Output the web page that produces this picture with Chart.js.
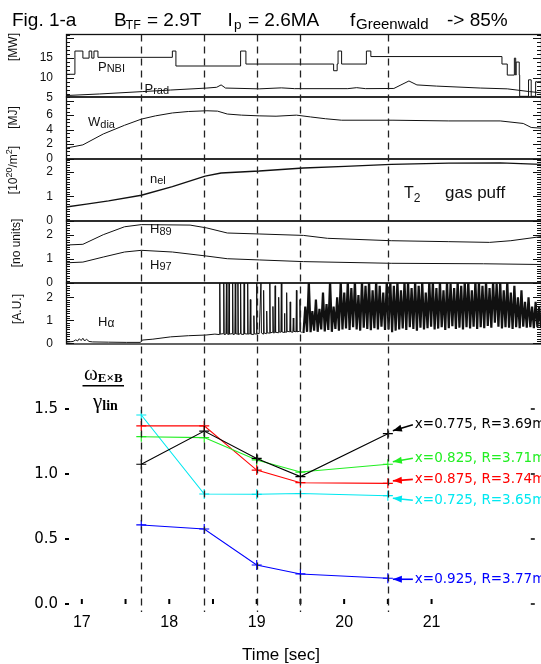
<!DOCTYPE html>
<html>
<head>
<meta charset="utf-8">
<title>Fig. 1-a</title>
<script src="https://cdn.jsdelivr.net/npm/chart.js@4.4.1/dist/chart.umd.min.js"></script>
<style>
  html, body { margin: 0; padding: 0; background: #fff; }
  #fig { position: relative; width: 541px; height: 664px; overflow: hidden; background: #fff; }
  #fig canvas { position: absolute; left: 0; top: 0; }
</style>
</head>
<body>
<div id="fig"></div>
<script>
// ---- time traces, [time (s), value] ----
const PNBI = [[16.82, 8.2], [16.92, 10.9], [17.01, 16.8], [17.08, 15.0], [17.11, 16.8], [17.135, 15.0],
  [17.18, 16.8], [18.02, 15.2], [18.06, 16.8], [18.79, 13.0], [18.85, 16.8], [19.84, 13.5], [19.88, 11.8],
  [19.89, 13.5], [19.93, 16.8], [20.21, 13.5], [20.26, 16.8], [21.74, 15.4], [21.80, 13.5], [21.88, 10.7],
  [21.895, 15.0], [21.90, 10.7], [21.935, 14.0], [21.94, 10.7], [22.04, 5.3], [22.07, 9.5], [22.12, 5.3],
  [22.14, 9.0], [22.18, 9.0]];
const PRAD = [[16.82, 5.5], [17.2, 5.9], [17.68, 6.5], [18.0, 6.9], [18.41, 7.4], [18.52, 7.6], [18.57, 8.2],
  [18.62, 7.4], [19.0, 7.2], [19.25, 7.45], [19.4, 7.25], [20.0, 7.25], [20.1, 7.5], [20.2, 7.25], [20.52, 7.3],
  [20.6, 8.2], [20.69, 9.2], [20.78, 8.2], [21.0, 7.9], [21.5, 7.4], [21.8, 7.2], [22.05, 6.5], [22.18, 6.2]];
const WDIA = [[16.82, 1.45], [17.01, 1.9], [17.24, 3.4], [17.48, 4.6], [17.67, 5.45], [17.83, 5.9], [18.02, 6.3],
  [18.2, 6.5], [18.41, 6.6], [18.53, 6.55], [18.64, 6.15], [18.8, 6.0], [19.0, 5.9], [19.19, 5.85], [19.42, 6.0],
  [19.58, 5.75], [19.75, 5.5], [19.93, 5.3], [20.51, 5.3], [21.14, 5.2], [21.72, 5.2], [21.98, 4.85],
  [22.07, 4.3], [22.18, 4.2]];
const NEL = [[16.82, 0.57], [17.05, 0.69], [17.3, 0.82], [17.67, 1.05], [18.02, 1.4], [18.39, 1.83], [18.57, 1.96],
  [19.0, 2.04], [19.5, 2.16], [19.97, 2.23], [20.49, 2.31], [21.14, 2.36], [21.72, 2.37], [22.18, 2.31]];
const H89 = [[16.82, 1.58], [17.01, 1.61], [17.24, 2.01], [17.48, 2.34], [17.67, 2.43], [18.22, 2.41], [18.41, 2.29],
  [18.64, 2.08], [19.0, 2.04], [19.5, 1.98], [19.77, 1.86], [20.49, 1.76], [21.14, 1.72], [21.6, 1.69],
  [21.84, 1.76], [22.18, 1.93]];
const H97 = [[16.82, 0.84], [17.01, 0.87], [17.24, 1.08], [17.48, 1.29], [17.67, 1.36], [18.02, 1.29], [18.41, 1.12],
  [18.64, 1.01], [19.0, 0.96], [19.5, 0.89], [20.49, 0.82], [21.53, 0.8], [22.18, 0.77]];
// H-alpha before the ELMs
const HA_PRE = [[16.82, 0.05], [16.9, 0.08], [16.93, 0.15], [16.95, 0.1], [16.97, 0.2], [16.99, 0.12], [17.01, 0.22],
  [17.03, 0.1], [17.05, 0.18], [17.08, 0.08], [17.12, 0.06], [17.3, 0.05], [17.5, 0.04], [17.66, 0.04],
  [17.68, 0.14], [17.8, 0.18], [18.0, 0.28], [18.2, 0.33], [18.4, 0.36], [18.5, 0.40]];
// H-alpha, isolated ELMs
const HA_ELM = [[18.55, 0.38], [18.555, 2.7], [18.56, 0.4], [18.595, 0.42], [18.6, 2.7], [18.605, 0.38],
  [18.625, 0.4], [18.63, 2.7], [18.635, 0.42], [18.655, 0.38], [18.66, 2.7], [18.665, 0.4], [18.695, 0.42],
  [18.7, 2.7], [18.705, 0.38], [18.725, 0.4], [18.73, 2.7], [18.735, 0.42], [18.755, 0.4], [18.76, 2.7],
  [18.765, 0.38], [18.785, 0.42], [18.79, 2.7], [18.795, 0.4], [18.825, 0.38], [18.83, 2.7], [18.835, 0.42],
  [18.865, 0.4], [18.87, 2.7], [18.875, 0.4], [18.895, 0.42], [18.9, 1.9], [18.905, 0.4], [18.935, 0.38],
  [18.94, 1.2], [18.945, 0.42], [18.965, 0.4], [18.97, 2.7], [18.975, 0.44], [19.0, 0.42], [19.02, 2.7],
  [19.025, 0.45], [19.045, 0.4], [19.05, 2.3], [19.055, 0.45], [19.08, 0.42], [19.085, 1.4], [19.09, 0.46],
  [19.115, 0.44], [19.12, 2.7], [19.125, 0.45], [19.15, 0.48], [19.155, 1.6], [19.16, 0.45], [19.175, 0.46],
  [19.18, 2.5], [19.185, 0.48], [19.215, 0.46], [19.22, 2.0], [19.225, 0.5], [19.245, 0.48], [19.25, 2.7],
  [19.255, 0.5], [19.28, 0.47], [19.285, 1.3], [19.29, 0.5], [19.305, 0.48], [19.31, 2.2], [19.315, 0.52],
  [19.345, 0.5], [19.35, 1.8], [19.355, 0.5], [19.38, 0.48], [19.385, 1.1], [19.39, 0.52], [19.415, 0.5],
  [19.42, 2.3], [19.425, 0.5], [19.455, 0.52], [19.46, 1.9], [19.465, 0.5], [19.48, 0.48]];
// H-alpha, dense ELM phase, one sample every HA_DT seconds from HA_T0
const HA_T0 = 19.5, HA_DT = 0.02;
const HA_DENSE = [
  0.45, 1.6, 0.5, 2.7, 0.48, 1.4, 0.55, 1.9, 0.5, 1.5, 0.6, 2.2, 0.52, 1.7, 0.58, 2.7, 0.5, 1.6, 0.62, 2.0,
  0.55, 2.7, 0.6, 2.2, 0.65, 2.7, 0.58, 2.4, 0.7, 2.7, 0.6, 2.1, 0.55, 2.7, 0.68, 2.5, 0.62, 2.7, 0.57, 2.3,
  0.66, 2.7, 0.6, 2.5, 0.72, 2.2, 0.58, 2.7, 0.6, 2.7,
  0.48, 2.5, 0.55, 2.7, 0.6, 2.3, 0.65, 2.7, 0.58, 2.7, 0.7, 2.4, 0.62, 2.7, 0.55, 2.5, 0.68, 2.7, 0.6, 2.2,
  0.66, 2.7, 0.72, 2.7, 0.6, 2.4, 0.64, 2.7, 0.7, 2.3, 0.58, 2.7, 0.66, 2.6, 0.74, 2.4, 0.62, 2.7, 0.68, 2.5,
  0.6, 2.7, 0.7, 2.7, 0.65, 2.3, 0.72, 2.7, 0.62, 2.7,
  0.7, 2.5, 0.66, 2.7, 0.75, 2.4, 0.68, 2.7, 0.9, 2.6, 0.72, 2.7, 0.65, 2.3, 0.7, 2.7, 0.68, 2.2, 0.62, 2.5,
  0.7, 2.0, 0.66, 2.3, 0.72, 1.8, 0.68, 2.0, 0.7, 1.6, 0.66, 1.8, 0.7, 1.6, 0.68];

// ---- omega_ExB / gamma_lin at the analysed times ----
const SCAN_TIMES = [17.68, 18.40, 19.00, 19.50, 20.50];
const RATIO_X0775 = [1.075, 1.33, 1.12, 0.98, 1.31];
const RATIO_X0825 = [1.287, 1.28, 1.108, 1.015, 1.075];
const RATIO_X0875 = [1.37, 1.37, 1.03, 0.933, 0.928];
const RATIO_X0725 = [1.454, 0.846, 0.844, 0.85, 0.833];
const RATIO_X0925 = [0.608, 0.577, 0.30, 0.231, 0.198];
const SERIES_NAMES = ['x=0.775, R=3.69m', 'x=0.825, R=3.71m', 'x=0.875, R=3.74m', 'x=0.725, R=3.65m', 'x=0.925, R=3.77m'];
const BOTTOM_Y_TICKS = [0, 0.5, 1.0, 1.5];
const BOTTOM_X_TICKS = [17, 17.5, 18, 18.5, 19, 19.5, 20, 20.5, 21];

// ---- styles / layout ----
const SANS = '"Liberation Sans", Arial, Helvetica, sans-serif';
const SERIF = '"Liberation Serif", "Times New Roman", serif';
const DEJA = '"DejaVu Sans", sans-serif';
const INK = '#111';
const SERIES_COLORS = ['#000000', '#22ee22', '#ff0000', '#00e8f0', '#0000ff'];
const LABEL_DY = [-9, -6, -4, 4.5, 1];
const TIP_DY = [-3, -2.5, -2.5, 2.5, 1];
const PX_PER_S = 88.6, X17 = 82;             // pixel of t=17 and scale
const XMAX = 17 + (541 - X17) / PX_PER_S;
const W = 541, H = 664;

const fig = document.getElementById('fig');
const pts = arr => arr.map(([x, y]) => ({x, y}));

function rich(ctx, x, y, parts, align) {
  let w = 0;
  parts.forEach(p => { ctx.font = (p[3] || '') + p[1] + 'px ' + (p[4] || SANS); w += ctx.measureText(p[0]).width; });
  let cx = align === 'center' ? x - w / 2 : x;
  parts.forEach(p => {
    ctx.font = (p[3] || '') + p[1] + 'px ' + (p[4] || SANS);
    ctx.fillText(p[0], cx, y + (p[2] || 0));
    cx += ctx.measureText(p[0]).width;
  });
}

const panelDeco = {
  id: 'panelDeco',
  afterDatasetsDraw(chart, args, o) {
    const {ctx, chartArea: a} = chart;
    const y = chart.scales.y;
    ctx.save();
    ctx.strokeStyle = INK;
    ctx.lineWidth = 1.3;
    ctx.strokeRect(a.left + 0.5, a.top, a.right - a.left, a.bottom - a.top);
    ctx.lineWidth = 1;
    ctx.beginPath();
    const k0 = Math.ceil(y.min / o.minor - 1e-6), k1 = Math.floor(y.max / o.minor + 1e-6);
    for (let k = k0; k <= k1; k++) {
      const v = k * o.minor;
      const len = o.majors.some(m => Math.abs(m - v) < 1e-6) ? 8 : 4;
      const py = Math.round(y.getPixelForValue(v)) + 0.5;
      ctx.moveTo(a.left, py); ctx.lineTo(a.left + len, py);
      ctx.moveTo(a.right, py); ctx.lineTo(a.right - len, py);
    }
    ctx.stroke();
    ctx.fillStyle = INK;
    ctx.textBaseline = 'alphabetic';
    (o.texts || []).forEach(t => rich(ctx, t.x, t.y, t.parts));
    if (o.title) {
      ctx.translate(o.title.x, o.title.y);
      ctx.rotate(-Math.PI / 2);
      ctx.textBaseline = 'middle';
      rich(ctx, 0, 0, o.title.parts, 'center');
    }
    ctx.restore();
  }
};

const PANELS = [
  {top: 34.5, bottom: 97, min: 5.13, max: 21.0, labels: [5, 10, 15], majors: [5, 10, 15, 20], minor: 1,
    title: {x: 14, y: 47, parts: [['[MW]', 12]]},
    texts: [{x: 98, y: 70.5, parts: [['P', 13], ['NBI', 11, 1.5]]},
            {x: 144.5, y: 92.5, parts: [['P', 13], ['rad', 11, 1.5]]}],
    sets: [{data: PNBI, stepped: 'after'}, {data: PRAD}]},
  {top: 97, bottom: 159, min: -0.05, max: 8.5, labels: [0, 2, 4, 6], majors: [0, 2, 4, 6, 8], minor: 0.5,
    title: {x: 14, y: 117.5, parts: [['[MJ]', 12]]},
    texts: [{x: 88, y: 126, parts: [['W', 13], ['dia', 11, 1.5]]}],
    sets: [{data: WDIA}]},
  {top: 159, bottom: 221, min: 0, max: 2.53, labels: [0, 1, 2], majors: [0, 1, 2], minor: 0.1,
    title: {x: 14, y: 170, parts: [['[10', 12], ['20', 9, -4], ['/m', 12], ['2', 9, -4], [']', 12]]},
    texts: [{x: 150, y: 182.5, parts: [['n', 13], ['el', 11, 1.5]]},
            {x: 404, y: 197.5, parts: [['T', 16], ['2', 12, 4]]},
            {x: 445, y: 197.5, parts: [['gas puff', 17]]}],
    sets: [{data: NEL, borderWidth: 1.4}]},
  {top: 221, bottom: 283, min: 0, max: 2.58, labels: [0, 1, 2], majors: [0, 1, 2], minor: 0.1,
    title: {x: 17, y: 243, parts: [['[no units]', 12]]},
    texts: [{x: 150, y: 233, parts: [['H', 13], ['89', 11, 1.5]]},
            {x: 150, y: 268.5, parts: [['H', 13], ['97', 11, 1.5]]}],
    sets: [{data: H89}, {data: H97}]},
  {top: 283, bottom: 344, min: -0.03, max: 2.62, labels: [0, 1, 2], majors: [0, 1, 2], minor: 0.1,
    title: {x: 18, y: 309, parts: [['[A.U.]', 12]]},
    texts: [{x: 98, y: 325.5, parts: [['H', 13], ['\u03b1', 12, 1.5]]}],
    sets: [{data: HA_PRE.concat(HA_ELM)},
           {data: HA_DENSE.map((v, i) => [HA_T0 + i * HA_DT, v]), borderWidth: 2.2}]}
];

function canvas() {
  const c = document.createElement('canvas');
  c.width = W; c.height = H;
  c.style.width = W + 'px'; c.style.height = H + 'px';
  fig.appendChild(c);
  return c;
}

PANELS.forEach(p => {
  new Chart(canvas(), {
    type: 'scatter',
    data: {datasets: p.sets.map(s => ({
      data: pts(s.data), showLine: true, pointRadius: 0, borderColor: INK,
      borderWidth: s.borderWidth || 1, stepped: s.stepped || false, borderJoinStyle: 'bevel'
    }))},
    options: {
      responsive: false, animation: false, devicePixelRatio: 1, events: [],
      layout: {padding: {top: p.top, bottom: H - p.bottom, left: 0, right: 0}},
      plugins: {legend: {display: false}, tooltip: {enabled: false}, panelDeco: p},
      scales: {
        x: {type: 'linear', min: 17 - (X17 - 66) / PX_PER_S, max: XMAX, display: false},
        y: {
          min: p.min, max: p.max,
          afterFit: s => { s.width = 66; },
          afterBuildTicks: s => { s.ticks = p.labels.map(v => ({value: v})); },
          ticks: {font: {family: SANS, size: 12}, color: INK, padding: 5, autoSkip: false},
          grid: {display: false}, border: {display: false}
        }
      }
    },
    plugins: [panelDeco]
  });
});

const bottomDeco = {
  id: 'bottomDeco',
  afterDraw(chart) {
    const {ctx, chartArea: a, scales: {x, y}} = chart;
    ctx.save();
    ctx.strokeStyle = '#000';
    // inward time ticks and right-hand ticks
    ctx.lineWidth = 2;
    ctx.beginPath();
    x.ticks.forEach(t => { const px = x.getPixelForValue(t.value); ctx.moveTo(px, a.bottom); ctx.lineTo(px, a.bottom - 5); });
    ctx.stroke();
    ctx.lineWidth = 1.5;
    ctx.beginPath();
    y.ticks.forEach(t => { const py = y.getPixelForValue(t.value); ctx.moveTo(a.right - 4, py); ctx.lineTo(a.right, py); });
    ctx.stroke();
    // dashed markers of the analysed times, through all panels
    ctx.setLineDash([7, 5]);
    ctx.lineWidth = 1.3;
    ctx.strokeStyle = '#222';
    ctx.beginPath();
    SCAN_TIMES.forEach(t => { const px = Math.round(x.getPixelForValue(t)) + 0.5; ctx.moveTo(px, 34.5); ctx.lineTo(px, 612); });
    ctx.stroke();
    ctx.setLineDash([]);
    // arrows and labels at the last point of each series
    chart.data.datasets.forEach((ds, i) => {
      const last = ds.data[ds.data.length - 1];
      const px = x.getPixelForValue(last.x), py = y.getPixelForValue(last.y);
      const tipX = px + 5, tipY = py + TIP_DY[i];
      const tailX = px + 25, tailY = py + LABEL_DY[i];
      const ang = Math.atan2(tipY - tailY, tipX - tailX);
      ctx.strokeStyle = ctx.fillStyle = ds.borderColor;
      ctx.lineWidth = 1.6;
      ctx.beginPath(); ctx.moveTo(tailX, tailY); ctx.lineTo(tipX, tipY); ctx.stroke();
      ctx.beginPath();
      ctx.moveTo(tipX, tipY);
      ctx.lineTo(tipX - 9 * Math.cos(ang) + 3.5 * Math.sin(ang), tipY - 9 * Math.sin(ang) - 3.5 * Math.cos(ang));
      ctx.lineTo(tipX - 9 * Math.cos(ang) - 3.5 * Math.sin(ang), tipY - 9 * Math.sin(ang) + 3.5 * Math.cos(ang));
      ctx.closePath(); ctx.fill();
      ctx.font = '13.5px ' + DEJA;
      ctx.textBaseline = 'middle';
      ctx.fillText(SERIES_NAMES[i], px + 27, py + LABEL_DY[i]);
    });
    // y label as a fraction
    ctx.fillStyle = '#000';
    ctx.strokeStyle = '#000';
    ctx.textBaseline = 'alphabetic';
    rich(ctx, 84, 380, [['\u03c9', 21, 0, '', SERIF], ['E\u00d7B', 13, 2, 'bold ', SERIF]]);
    ctx.lineWidth = 1.6;
    ctx.beginPath(); ctx.moveTo(82.5, 385.7); ctx.lineTo(124, 385.7); ctx.stroke();
    rich(ctx, 93, 408, [['\u03b3', 21, 0, '', SERIF], ['lin', 14, 2, 'bold ', SERIF]]);
    // x title
    ctx.font = '17px ' + SANS;
    ctx.textAlign = 'center';
    ctx.fillText('Time [sec]', 281, 660);
    // figure title
    ctx.textAlign = 'left';
    const big = 19;
    [[12, 'Fig. 1-a', big, 0], [114, 'B', big, 0], [125.5, 'TF', 12.5, 3], [147, '= 2.9T', big, 0],
     [227.5, 'I', big, 0], [234, 'p', 13.5, 3], [248, '= 2.6MA', big, 0],
     [350, 'f', big, 0], [356, 'Greenwald', 15, 3.5], [447, '-> 85%', big, 0]].forEach(s => {
      ctx.font = s[2] + 'px ' + SANS;
      ctx.fillText(s[1], s[0], 25.5 + s[3]);
    });
    ctx.restore();
  }
};

const SERIES = [RATIO_X0775, RATIO_X0825, RATIO_X0875, RATIO_X0725, RATIO_X0925];
new Chart(canvas(), {
  type: 'line',
  data: {datasets: SERIES.map((vals, i) => ({
    data: SCAN_TIMES.map((t, k) => ({x: t, y: vals[k]})),
    borderColor: SERIES_COLORS[i], backgroundColor: SERIES_COLORS[i],
    borderWidth: 1.1, pointStyle: 'cross', pointRadius: 5, pointBorderWidth: 1.2,
    pointBorderColor: SERIES_COLORS[i]
  }))},
  options: {
    responsive: false, animation: false, devicePixelRatio: 1, events: [],
    layout: {padding: {top: 604 - 1.85 * 130, bottom: 0, left: 0, right: 0}},
    plugins: {legend: {display: false}, tooltip: {enabled: false}},
    scales: {
      x: {
        type: 'linear', min: 17 - (X17 - 69) / PX_PER_S, max: XMAX,
        afterFit: s => { s.height = 60; },
        afterBuildTicks: s => { s.ticks = BOTTOM_X_TICKS.map(v => ({value: v})); },
        ticks: {font: {family: SANS, size: 16}, color: '#000', padding: 1, autoSkip: false, maxRotation: 0,
          callback: v => Number.isInteger(v) ? String(v) : ''},
        grid: {display: false}, border: {display: false}
      },
      y: {
        min: 0, max: 1.85,
        afterFit: s => { s.width = 69; },
        afterBuildTicks: s => { s.ticks = BOTTOM_Y_TICKS.map(v => ({value: v})); },
        ticks: {font: {family: DEJA, size: 15}, color: '#000', padding: 7, autoSkip: false,
          callback: v => v.toFixed(1)},
        grid: {display: true, drawOnChartArea: false, drawTicks: true, tickLength: 4, lineWidth: 2, color: '#000'},
        border: {display: false}
      }
    }
  },
  plugins: [bottomDeco]
});
</script>
</body>
</html>
